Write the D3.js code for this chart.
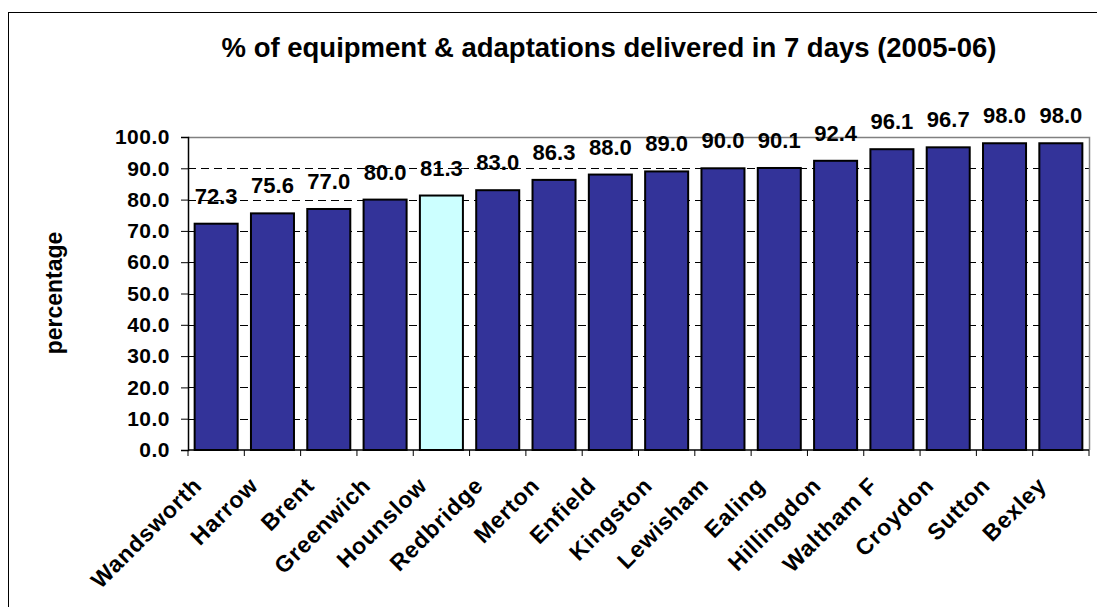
<!DOCTYPE html>
<html>
<head>
<meta charset="utf-8">
<script src="https://cdn.jsdelivr.net/npm/d3@7"></script>
<style>
  html, body { margin: 0; padding: 0; background: #fff; }
  svg { display: block; font-family: "Liberation Sans", Arial, sans-serif; }
</style>
</head>
<body>
<svg id="chart" width="1097" height="607"></svg>
<script>
// Boroughs, ordered from lowest to highest delivery rate
const boroughs = ["Wandsworth", "Harrow", "Brent", "Greenwich", "Hounslow", "Redbridge",
  "Merton", "Enfield", "Kingston", "Lewisham", "Ealing", "Hillingdon",
  "Waltham F", "Croydon", "Sutton", "Bexley"];
const deliveredPct = [72.3, 75.6, 77.0, 80.0, 81.3, 83.0, 86.3, 88.0, 89.0, 90.0,
  90.1, 92.4, 96.1, 96.7, 98.0, 98.0];
const highlighted = ["Hounslow"];
const yTicks = [0, 10, 20, 30, 40, 50, 60, 70, 80, 90, 100];
const titleText = "% of equipment & adaptations delivered in 7 days (2005-06)";
const yAxisTitle = "percentage";

const svg = d3.select("#chart");
const W = 1097, H = 607;
const plot = { left: 188, right: 1089, top: 137, bottom: 450 };

// Outer chart frame (runs off the right and bottom edges)
svg.append("rect")
  .attr("x", 8.5).attr("y", 12.5)
  .attr("width", W + 20).attr("height", H + 20)
  .attr("fill", "#fff").attr("stroke", "#000").attr("stroke-width", 1);

const x = d3.scaleBand().domain(boroughs).range([plot.left, plot.right])
  .paddingInner(0.236).paddingOuter(0.118);
const y = d3.scaleLinear().domain([0, 100]).range([plot.bottom, plot.top]);

// Dashed gridlines
svg.append("g").selectAll("line")
  .data(yTicks.filter(t => t > 0 && t < 100))
  .join("line")
  .attr("x1", plot.left).attr("x2", plot.right)
  .attr("y1", d => Math.round(y(d)) + 0.5).attr("y2", d => Math.round(y(d)) + 0.5)
  .attr("stroke", "#000").attr("stroke-width", 1)
  .attr("stroke-dasharray", "8,5");

// Plot area border (top and right)
svg.append("path")
  .attr("d", `M${plot.left},${plot.top + 0.5}H${plot.right + 0.5}V${plot.bottom}`)
  .attr("fill", "none").attr("stroke", "#808080").attr("stroke-width", 1.5);

// Bars
svg.append("g").selectAll("rect")
  .data(boroughs.map((b, i) => ({ b, v: deliveredPct[i] })))
  .join("rect")
  .attr("x", d => x(d.b))
  .attr("y", d => y(d.v))
  .attr("width", x.bandwidth())
  .attr("height", d => y(0) - y(d.v))
  .attr("fill", d => highlighted.includes(d.b) ? "#CCFFFF" : "#333399")
  .attr("stroke", "#000").attr("stroke-width", 2);

// Value labels
svg.append("g").selectAll("text")
  .data(boroughs.map((b, i) => ({ b, v: deliveredPct[i] })))
  .join("text")
  .attr("x", d => x(d.b) + x.bandwidth() / 2)
  .attr("y", d => y(d.v) - 20)
  .attr("text-anchor", "middle")
  .attr("font-size", 22).attr("font-weight", "bold")
  .text(d => d.v.toFixed(1));

// Y axis
const yAxis = d3.axisLeft(y).tickValues(yTicks).tickFormat(d => d.toFixed(1))
  .tickSizeOuter(0).tickSize(7).tickPadding(11);
const gy = svg.append("g").attr("transform", `translate(${plot.left},0)`).call(yAxis);
gy.select(".domain").attr("stroke", "#000").attr("stroke-width", 1.5);
gy.selectAll(".tick line").attr("stroke", "#000");
gy.selectAll(".tick text")
  .attr("font-size", 21).attr("font-weight", "bold").attr("fill", "#000")
  .attr("letter-spacing", 0.5)
  .attr("font-family", "Liberation Sans, Arial, sans-serif");

// X axis baseline and category ticks
svg.append("line")
  .attr("x1", plot.left).attr("x2", plot.right)
  .attr("y1", plot.bottom).attr("y2", plot.bottom)
  .attr("stroke", "#000").attr("stroke-width", 1.5);
const edges = d3.range(boroughs.length + 1).map(i => plot.left + i * x.step());
svg.append("g").selectAll("line")
  .data(edges).join("line")
  .attr("x1", d => d).attr("x2", d => d)
  .attr("y1", plot.bottom).attr("y2", plot.bottom + 6)
  .attr("stroke", "#000").attr("stroke-width", 1);

// Rotated category labels
svg.append("g").selectAll("text")
  .data(boroughs).join("text")
  .attr("transform", d => `translate(${x(d) + x.bandwidth() / 2 - 13},${plot.bottom + 37}) rotate(-45)`)
  .attr("text-anchor", "end")
  .attr("font-size", 23).attr("font-weight", "bold")
  .attr("letter-spacing", 0.8)
  .text(d => d);

// Title
svg.append("text")
  .attr("x", 609).attr("y", 57)
  .attr("text-anchor", "middle")
  .attr("font-size", 27.5).attr("font-weight", "bold")
  .text(titleText);

// Y axis title
svg.append("text")
  .attr("transform", "translate(62,293) rotate(-90)")
  .attr("text-anchor", "middle")
  .attr("font-size", 23).attr("font-weight", "bold")
  .text(yAxisTitle);
</script>
</body>
</html>
